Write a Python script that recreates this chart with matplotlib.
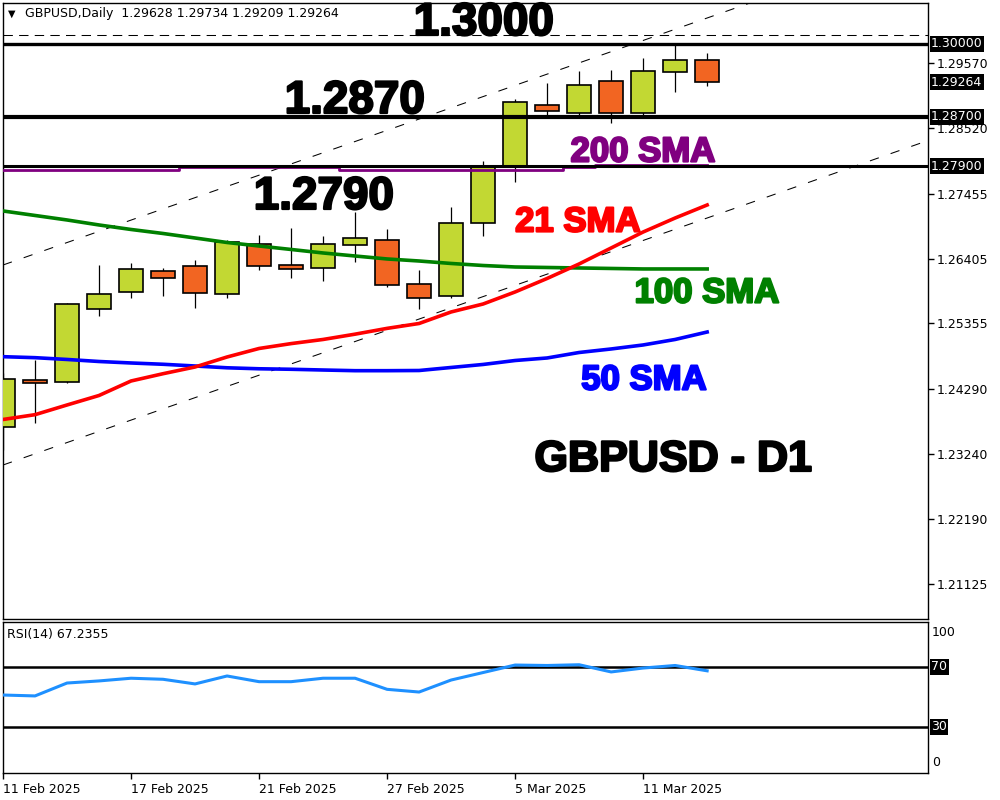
import matplotlib
matplotlib.use("Agg")
import matplotlib.pyplot as plt
import matplotlib.patheffects as pe
import numpy as np

# ---------------- data ----------------
dates = ['11 Feb', '12 Feb', '13 Feb', '14 Feb', '17 Feb', '18 Feb', '19 Feb', '20 Feb',
         '21 Feb', '24 Feb', '25 Feb', '26 Feb', '27 Feb', '28 Feb', '3 Mar', '4 Mar',
         '5 Mar', '6 Mar', '7 Mar', '10 Mar', '11 Mar', '12 Mar', '13 Mar']
opens = [1.23670, 1.24431, 1.24409, 1.25582, 1.25858, 1.26198, 1.26279, 1.25825,
         1.26636, 1.26296, 1.26247, 1.26620, 1.26701, 1.25988, 1.25793, 1.26976,
         1.27894, 1.28889, 1.28759, 1.29278, 1.28759, 1.29424, 1.29628]
highs = [1.24545, 1.24760, 1.25680, 1.26300, 1.26333, 1.26248, 1.26381, 1.26706,
         1.26787, 1.26900, 1.26775, 1.27160, 1.26884, 1.26219, 1.27246, 1.27986,
         1.28991, 1.29246, 1.29450, 1.29461, 1.29656, 1.29862, 1.29734]
lows = [1.23302, 1.23744, 1.24380, 1.25479, 1.25770, 1.25803, 1.25608, 1.25770,
        1.26224, 1.26095, 1.26046, 1.26344, 1.25949, 1.25582, 1.25770, 1.26775,
        1.27651, 1.28716, 1.28732, 1.28597, 1.28716, 1.29110, 1.29209]
closes = [1.24448, 1.24392, 1.25663, 1.25825, 1.26231, 1.26085, 1.25842, 1.26678,
          1.26279, 1.26231, 1.26636, 1.26733, 1.25971, 1.25761, 1.26976, 1.27900,
          1.28943, 1.28792, 1.29213, 1.28759, 1.29440, 1.29628, 1.29264]

sma21 = [1.23796, 1.23874, 1.24031, 1.24185, 1.24420, 1.24538, 1.24647, 1.24809,
         1.24947, 1.25026, 1.25093, 1.25179, 1.25273, 1.25352, 1.25539, 1.25668,
         1.25863, 1.26082, 1.26317, 1.26576, 1.26835, 1.27062, 1.27273]
sma50 = [1.24814, 1.24798, 1.24769, 1.24736, 1.24712, 1.24691, 1.24663, 1.24634,
         1.24618, 1.24610, 1.24598, 1.24587, 1.24587, 1.24590, 1.24639, 1.24688,
         1.24752, 1.24793, 1.24882, 1.24939, 1.25004, 1.25093, 1.25214]
sma100 = [1.27176, 1.27103, 1.27030, 1.26949, 1.26876, 1.26811, 1.26738, 1.26665,
          1.26608, 1.26552, 1.26495, 1.26446, 1.26398, 1.26365, 1.26325, 1.26292,
          1.26268, 1.26260, 1.26252, 1.26244, 1.26236, 1.26236, 1.26236]
sma200 = [1.27845, 1.27845, 1.27845, 1.27845, 1.27845, 1.27845, 1.27889, 1.27889,
          1.27889, 1.27889, 1.27889, 1.27845, 1.27845, 1.27845, 1.27845, 1.27845,
          1.27845, 1.27845, 1.27889, 1.27921, 1.27921, 1.27921, 1.27921]

rsi = [51.1, 50.5, 59.1, 60.5, 62.3, 61.6, 58.5, 63.8, 60.0, 60.0, 62.3, 62.3,
       54.9, 53.1, 61.1, 66.1, 71.1, 70.8, 71.3, 66.5, 69.1, 70.8, 67.2355]

level_prices = [1.2989, 1.2870, 1.2790]
level_labels = ['1.30000', '1.28700', '1.27900']
level_big_text = ['1.3000', '1.2870', '1.2790']
dashed_level = 1.3003

channel_x = [0, 29]
channel_upper = [1.26300, 1.31578]
channel_lower = [1.23058, 1.28336]

price_ticks = [1.29570, 1.28520, 1.27455, 1.26405, 1.25355, 1.24290, 1.23240, 1.22190, 1.21125]
date_tick_idx = [0, 4, 8, 12, 16, 20]
date_tick_labels = ['11 Feb 2025', '17 Feb 2025', '21 Feb 2025', '27 Feb 2025', '5 Mar 2025', '11 Mar 2025']

last_price = 1.29264

# ---------------- figure ----------------
W, H = 1000, 800
fig = plt.figure(figsize=(10, 8), dpi=100)
fig.patch.set_facecolor('white')

def fx(px):
    return px / W

def fy(py):
    return 1 - py / H

ax = fig.add_axes([fx(3), fy(619), fx(928 - 3), (619 - 3) / H])
rax = fig.add_axes([fx(3), fy(773), fx(928 - 3), (773 - 622) / H])

xs = np.arange(len(dates))
XMAX = 28.9
ax.set_xlim(0, XMAX)
ax.set_ylim(1.20562, 1.30547)
rax.set_xlim(0, XMAX)
rax.set_ylim(-0.9, 99.8)

bull = '#C2D833'
bear = '#F26522'

# wicks
ax.vlines(xs, lows, highs, color='black', lw=0.9, zorder=2)
o = np.array(opens)
c = np.array(closes)
cols = [bull if cc >= oo else bear for oo, cc in zip(o, c)]
ax.bar(xs, np.maximum(np.abs(c - o), 0.00008), bottom=np.minimum(o, c), width=0.75,
       color=cols, edgecolor='black', linewidth=1.2, zorder=3)

# channel
ax.plot(channel_x, channel_upper, color='black', lw=0.75, ls=(0, (9, 12)), zorder=2)
ax.plot(channel_x, channel_lower, color='black', lw=0.75, ls=(0, (9, 12)), zorder=2)

# dashed horizontal
ax.axhline(dashed_level, color='black', lw=0.75, ls=(0, (9, 6)), zorder=2)

# SMAs
ax.plot(xs, sma200, color='#800080', lw=2.0, drawstyle='steps-mid', zorder=4)
ax.plot(xs, sma100, color='#008000', lw=2.6, zorder=5)
ax.plot(xs, sma50, color='#0000FF', lw=2.6, zorder=5)
ax.plot(xs, sma21, color='#FF0000', lw=2.6, zorder=5)

# horizontal levels
level_lw = [2.4, 3.0, 2.2]
for lp, lw in zip(level_prices, level_lw):
    ax.axhline(lp, color='black', lw=lw, zorder=4.5)

# axis styling main
for s in ax.spines.values():
    s.set_color('black')
    s.set_linewidth(1.0)
ax.tick_params(axis='x', bottom=False, labelbottom=False)
ax.yaxis.tick_right()
ax.set_yticks(price_ticks)
ax.set_yticklabels(['%.5f' % t for t in price_ticks])
ax.tick_params(axis='y', direction='out', length=4, width=1, pad=2.5,
               labelsize=9, labelcolor='black')
for lbl in ax.get_yticklabels():
    lbl.set_family('DejaVu Sans')

# black price boxes
def price_box(axis, y, text):
    axis.annotate(text, xy=(1.0, y), xycoords=('axes fraction', 'data'),
                  xytext=(3, 0), textcoords='offset pixels', ha='left', va='center',
                  color='white', fontsize=9, family='DejaVu Sans', zorder=20,
                  annotation_clip=False,
                  bbox=dict(boxstyle='square,pad=0.12', fc='black', ec='none'))

for lp, lt in zip(level_prices, level_labels):
    price_box(ax, lp, lt)
price_box(ax, last_price, '%.5f' % last_price)

# header
fig.text(fx(8), fy(14), '\u25BC', fontsize=7, family='DejaVu Sans', va='center', ha='left', color='black')
fig.text(fx(25), fy(14), 'GBPUSD,Daily  %.5f %.5f %.5f %.5f' % (opens[-1], highs[-1], lows[-1], closes[-1]),
         fontsize=9, family='DejaVu Sans', va='center', ha='left', color='black')

# big annotations
def big(xp, yp, text, color, size):
    fig.text(fx(xp), fy(yp), text, color=color, fontsize=size, fontweight='bold',
             family='Liberation Sans', ha='center', va='center', zorder=30,
             path_effects=[pe.withStroke(linewidth=1.6, foreground=color)])

big(484, 23, level_big_text[0], 'black', 33)
big(355, 101, level_big_text[1], 'black', 33)
big(324, 197, level_big_text[2], 'black', 33)
big(643, 152, '200 SMA', '#800080', 25)
big(578, 222, '21 SMA', '#FF0000', 25)
big(707, 293, '100 SMA', '#008000', 25)
big(644, 380, '50 SMA', '#0000FF', 25)
big(673, 460, 'GBPUSD - D1', 'black', 31)

# ---------------- RSI ----------------
rax.plot(xs, rsi, color='#1E90FF', lw=2.2, zorder=3)
rax.axhline(70, color='black', lw=1.8, zorder=2)
rax.axhline(30, color='black', lw=1.8, zorder=2)
for s in rax.spines.values():
    s.set_color('black')
    s.set_linewidth(1.0)
rax.set_yticks([])
rax.set_xticks(date_tick_idx)
rax.set_xticklabels(date_tick_labels, ha='left')
rax.tick_params(axis='x', direction='out', length=4, width=1, pad=3, labelsize=9)
for lbl in rax.get_xticklabels():
    lbl.set_family('DejaVu Sans')
price_box(rax, 70, '70')
price_box(rax, 30, '30')
rax.annotate('100', xy=(1.0, 100), xycoords=('axes fraction', 'data'), xytext=(4, -4),
             textcoords='offset pixels', ha='left', va='top', fontsize=9,
             family='DejaVu Sans', annotation_clip=False)
rax.annotate('0', xy=(1.0, 0), xycoords=('axes fraction', 'data'), xytext=(4, 3),
             textcoords='offset pixels', ha='left', va='bottom', fontsize=9,
             family='DejaVu Sans', annotation_clip=False)
rax.text(0.004, 0.92, 'RSI(14) %.4f' % rsi[-1], transform=rax.transAxes, fontsize=9,
         family='DejaVu Sans', ha='left', va='center')

fig.savefig('out.png', dpi=100, facecolor='white')
